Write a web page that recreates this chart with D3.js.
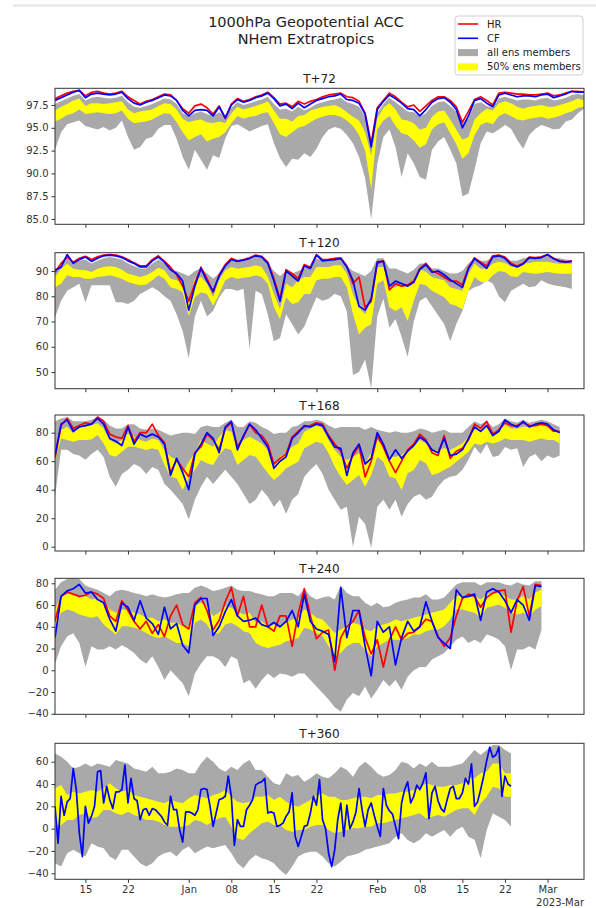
<!DOCTYPE html>
<html>
<head>
<meta charset="utf-8">
<script src="https://cdn.jsdelivr.net/npm/d3@7"></script>
<style>
  body { margin: 0; background: #fff; }
  svg { display: block; font-family: 'DejaVu Sans', sans-serif; }
</style>
</head>
<body>
<div class="visContainer"></div>
<script>
// T+72: daily values from 2022-12-10.
const t72Min = [
  92.6, 94.5, 95.4, 95.6, 95.8, 95.2, 95.0, 94.8, 95.1, 94.7,
  95.0, 95.8, 94.0, 92.6, 92.9, 93.8, 94.0, 94.9, 95.3, 95.3,
  93.8, 91.8, 90.4, 92.6, 91.5, 90.4, 92.0, 91.7, 93.8, 95.2,
  95.4, 95.0, 94.6, 94.9, 95.2, 95.4, 93.3, 91.7, 90.7, 91.6,
  91.5, 92.2, 91.8, 92.7, 94.0, 94.8, 95.1, 94.9, 94.2, 93.3,
  91.8, 89.5, 85.0, 91.0, 94.0, 94.8, 92.9, 89.6, 92.2, 91.1,
  89.6, 89.3, 92.6, 93.5, 94.0, 92.6, 91.1, 87.5, 87.8, 90.4,
  93.3, 94.6, 94.4, 94.8, 95.3, 94.9, 93.7, 92.7, 94.2, 94.9,
  95.3, 95.1, 94.8, 94.9, 95.7, 95.9, 96.6, 97.1
];
const t72Q25 = [
  95.7, 96.0, 96.4, 96.6, 97.0, 96.5, 96.6, 96.7, 96.6, 96.5,
  96.6, 96.9, 96.0, 95.5, 95.6, 95.7, 95.9, 96.3, 96.6, 96.5,
  95.6, 94.5, 93.6, 94.0, 94.3, 93.5, 93.8, 94.0, 94.5, 95.5,
  96.3, 96.0, 96.2, 96.3, 96.6, 96.7, 95.5, 94.3, 94.0, 94.5,
  95.0, 95.2, 95.6, 96.0, 96.2, 96.4, 96.4, 96.2, 95.8, 95.2,
  94.2, 92.5, 88.3, 94.8, 95.8, 96.3, 95.2, 94.4, 94.2, 93.6,
  92.8, 93.2, 94.8, 95.4, 95.6, 94.4, 93.2, 91.6, 92.2, 94.2,
  95.3, 95.6, 95.4, 96.3, 96.6, 96.3, 95.9, 95.8, 96.0, 96.1,
  96.2, 96.0, 96.1, 96.3, 96.6, 96.8, 97.2, 97.3
];
const t72Q75 = [
  96.9, 97.3, 97.6, 98.0, 98.2, 97.4, 97.7, 97.7, 97.6, 97.7,
  97.8, 97.9, 97.0, 96.6, 96.8, 96.9, 97.0, 97.4, 97.7, 97.6,
  97.0, 96.0, 95.6, 95.8, 95.9, 95.6, 95.5, 95.7, 95.5, 96.6,
  97.3, 97.0, 97.2, 97.4, 97.6, 97.9, 96.9, 96.0, 96.0, 95.7,
  96.3, 96.4, 96.9, 97.1, 97.3, 97.4, 97.5, 97.2, 96.7, 96.2,
  95.8, 94.5, 92.0, 96.0, 97.2, 97.7, 97.0, 95.9, 95.8, 95.5,
  94.8, 95.0, 96.2, 96.8, 96.9, 95.9, 94.8, 93.7, 94.0, 95.9,
  96.6, 97.1, 96.9, 97.7, 97.9, 97.7, 97.3, 97.1, 97.3, 97.4,
  97.5, 97.3, 97.3, 97.5, 97.7, 97.9, 98.2, 98.0
];
const t72Max = [
  97.6, 97.9, 98.2, 98.5, 98.7, 98.0, 98.3, 98.4, 98.3, 98.2,
  98.3, 98.5, 97.8, 97.3, 97.2, 97.4, 97.6, 97.9, 98.2, 98.1,
  97.6, 96.6, 96.3, 96.6, 96.8, 96.5, 96.3, 96.7, 96.3, 97.2,
  97.8, 97.5, 97.7, 97.9, 98.1, 98.4, 97.6, 97.0, 97.1, 96.8,
  97.3, 96.9, 97.2, 97.6, 97.8, 98.0, 98.1, 98.3, 97.8, 97.6,
  97.3, 96.2, 93.5, 96.6, 97.6, 98.3, 97.8, 97.3, 96.8, 96.7,
  96.2, 96.6, 97.4, 97.8, 97.9, 97.4, 96.8, 95.5, 96.0, 97.6,
  97.8, 97.4, 97.2, 98.2, 98.4, 98.2, 98.0, 98.1, 98.1, 98.0,
  98.2, 98.3, 98.0, 98.1, 98.3, 98.6, 98.7, 98.6
];
const t72HR = [
  98.2, 98.5, 98.8, 99.0, 99.1, 98.5, 98.9, 99.0, 98.8, 98.7,
  98.8, 99.0, 98.4, 98.0, 97.6, 97.9, 98.1, 98.4, 98.7, 98.6,
  98.0, 97.1, 96.6, 97.4, 97.6, 97.2, 96.5, 97.4, 96.0, 97.6,
  98.2, 97.9, 98.1, 98.4, 98.6, 98.9, 98.3, 97.6, 97.7, 97.3,
  97.9, 97.6, 97.9, 98.1, 98.4, 98.6, 98.7, 98.8, 98.4, 98.3,
  97.9, 96.6, 93.3, 97.2, 98.0, 98.8, 98.4, 97.8, 97.3, 97.5,
  96.8, 97.4, 98.0, 98.4, 98.4, 98.0, 97.3, 95.6, 96.8, 98.1,
  98.4, 98.0, 97.5, 98.8, 98.9, 98.8, 98.7, 98.7, 98.6, 98.6,
  98.7, 98.8, 98.5, 98.6, 98.8, 99.0, 99.0, 98.9
];
const t72CF = [
  98.0, 98.3, 98.6, 98.9, 99.1, 98.3, 98.7, 98.8, 98.7, 98.6,
  98.7, 98.9, 98.2, 97.7, 97.5, 97.8, 98.0, 98.3, 98.6, 98.5,
  98.0, 96.9, 96.3, 96.9, 97.0, 96.9, 96.3, 97.3, 96.1, 97.5,
  98.1, 97.8, 98.0, 98.3, 98.5, 98.8, 98.2, 97.4, 97.6, 97.1,
  97.7, 97.2, 97.6, 98.0, 98.2, 98.4, 98.5, 98.7, 98.1, 98.0,
  97.7, 96.5, 92.9, 97.0, 97.9, 98.6, 98.2, 97.7, 97.1, 97.0,
  96.3, 97.0, 97.8, 98.2, 98.3, 97.8, 97.0, 95.0, 96.3, 98.0,
  98.2, 97.7, 97.3, 98.6, 98.8, 98.6, 98.4, 98.5, 98.5, 98.4,
  98.6, 98.7, 98.3, 98.5, 98.7, 99.0, 98.9, 98.9
];

// T+120: daily values from 2022-12-10.
const t120Min = [
  71.6, 78.2, 82.2, 83.6, 84.9, 77.6, 84.3, 84.3, 84.3, 84.3,
  77.6, 77.6, 76.9, 78.2, 80.9, 82.2, 83.6, 82.2, 80.0, 78.2,
  72.9, 66.2, 55.5, 72.0, 78.2, 72.0, 74.2, 79.6, 82.9, 82.9,
  82.2, 83.0, 59.0, 82.2, 80.9, 72.9, 62.2, 63.5, 72.9, 68.9,
  64.9, 68.0, 74.0, 79.6, 78.2, 79.0, 81.0, 80.0, 74.0, 48.8,
  50.0, 55.0, 43.5, 72.0, 79.0, 67.5, 71.0, 64.0, 56.0, 70.0,
  78.2, 79.6, 76.0, 72.5, 69.0, 62.2, 69.0, 74.2, 82.2, 83.6,
  84.3, 86.3, 85.0, 80.0, 77.6, 82.2, 83.6, 84.9, 83.6, 84.0,
  86.3, 85.0, 84.3, 84.0, 83.6, 82.9
];
const t120Q25 = [
  83.6, 84.9, 88.3, 87.6, 87.6, 86.9, 86.9, 87.6, 87.9, 88.3,
  87.6, 86.9, 85.6, 84.9, 84.3, 84.6, 86.3, 88.3, 86.9, 83.6,
  82.9, 81.6, 72.2, 79.6, 81.6, 80.9, 76.2, 80.9, 86.3, 87.6,
  86.9, 87.3, 87.6, 88.3, 87.6, 84.9, 75.6, 70.9, 79.6, 76.9,
  77.6, 80.9, 80.9, 86.3, 86.9, 86.9, 87.6, 87.6, 83.6, 72.9,
  64.9, 67.5, 68.9, 84.9, 86.3, 75.6, 74.2, 75.6, 70.2, 78.2,
  84.9, 84.3, 82.2, 80.9, 79.6, 76.9, 76.2, 74.9, 82.2, 87.6,
  85.6, 85.6, 88.3, 90.0, 89.6, 87.9, 87.6, 89.6, 89.2, 88.9,
  89.2, 89.6, 89.2, 88.9, 88.9, 88.9
];
const t120Q75 = [
  87.6, 90.9, 92.9, 90.9, 90.5, 90.3, 89.6, 90.9, 91.6, 91.9,
  91.6, 90.5, 88.9, 88.3, 87.6, 88.3, 89.6, 91.3, 90.3, 86.9,
  86.3, 84.9, 77.6, 86.9, 87.6, 84.9, 79.6, 86.3, 90.3, 91.6,
  90.9, 91.3, 91.6, 92.3, 91.6, 87.6, 80.9, 74.9, 84.9, 83.6,
  86.3, 87.6, 87.6, 91.6, 91.6, 91.6, 92.3, 92.3, 88.9, 80.9,
  75.6, 72.9, 78.2, 91.6, 91.6, 83.6, 83.6, 84.9, 83.6, 86.3,
  90.9, 89.6, 87.6, 86.9, 86.3, 83.6, 82.9, 82.2, 88.9, 92.9,
  90.9, 90.9, 92.9, 93.6, 93.2, 91.9, 91.6, 92.9, 93.2, 93.6,
  93.6, 93.6, 93.2, 92.9, 92.9, 92.9
];
const t120Max = [
  91.0, 92.0, 95.0, 93.0, 94.0, 94.5, 93.0, 94.0, 95.0, 95.5,
  95.0, 94.5, 93.0, 92.0, 91.0, 91.0, 93.0, 94.5, 93.0, 90.5,
  90.0, 89.0, 88.0, 90.0, 91.0, 89.0, 87.0, 89.0, 92.0, 94.0,
  93.5, 94.0, 94.5, 95.5, 95.0, 93.0, 90.0, 88.0, 90.0, 89.0,
  90.0, 91.0, 92.0, 95.0, 94.0, 94.0, 94.5, 94.5, 92.0, 90.0,
  89.0, 88.0, 90.0, 95.0, 95.0, 91.0, 91.0, 90.0, 89.0, 90.5,
  93.0, 93.0, 91.0, 91.0, 90.0, 89.0, 89.0, 90.0, 93.0, 95.0,
  94.0, 94.0, 95.5, 96.0, 95.5, 94.0, 94.0, 95.0, 95.5, 95.5,
  95.5, 96.0, 95.0, 95.0, 94.5, 94.0
];
const t120HR = [
  89.5, 93.0, 95.5, 93.5, 95.0, 95.8, 94.5, 95.6, 96.3, 96.5,
  96.3, 95.6, 94.5, 93.2, 92.0, 92.0, 94.5, 96.0, 93.8, 91.5,
  88.5, 84.0, 78.0, 85.0, 91.5, 87.0, 81.5, 88.5, 92.5, 95.0,
  94.0, 94.5, 95.2, 96.3, 95.8, 93.5, 87.0, 79.0, 90.5, 89.0,
  87.0, 92.5, 91.5, 96.5, 94.5, 94.6, 95.0, 95.2, 92.0, 85.0,
  87.6, 75.5, 78.0, 93.0, 94.0, 82.5, 85.0, 84.0, 84.5, 86.0,
  91.0, 93.0, 90.0, 89.0, 87.5, 86.0, 86.0, 84.5, 91.5, 95.2,
  93.5, 92.0, 96.0, 96.3, 95.5, 93.0, 92.0, 93.0, 95.5, 95.3,
  95.6, 96.5, 95.0, 94.0, 93.5, 94.0
];
const t120CF = [
  90.3, 91.5, 96.5, 93.0, 94.5, 95.5, 93.8, 95.0, 96.0, 96.3,
  96.0, 95.3, 94.0, 93.0, 91.6, 91.6, 94.0, 95.5, 93.5, 90.5,
  89.0, 86.0, 74.5, 84.0, 91.0, 86.0, 82.0, 88.0, 92.0, 94.5,
  93.8, 94.3, 94.9, 96.0, 95.5, 93.0, 86.0, 78.0, 90.0, 88.0,
  86.0, 92.0, 91.0, 96.3, 94.0, 94.3, 94.5, 94.9, 91.6, 86.3,
  76.0, 74.5, 79.0, 93.6, 93.8, 84.0, 86.0, 85.0, 84.0, 85.5,
  90.5, 92.5, 89.5, 90.0, 88.5, 86.5, 85.0, 83.5, 91.0, 94.9,
  93.0, 91.0, 95.6, 96.0, 95.0, 92.5, 91.6, 92.8, 95.3, 95.0,
  95.3, 96.5, 94.8, 93.8, 93.6, 93.8
];

// T+168: daily values from 2022-12-10.
const t168Min = [
  35, 68, 68, 65, 64, 61, 65, 68, 63, 49,
  42, 51, 54, 58, 56, 51, 56, 54, 44, 40,
  35, 30, 19, 33, 42, 49, 44, 49, 54, 49,
  44, 37, 30, 33, 40, 35, 28, 33, 23, 33,
  37, 49, 54, 58, 51, 40, 33, 26, 28, 0,
  21, 16, -1, 28, 33, 26, 33, 21, 30, 35,
  37, 33, 35, 42, 47, 49, 50, 54, 61, 70,
  65, 72, 63, 64, 70, 68, 69, 56, 63, 65,
  60, 64, 62, 64
];
const t168Q25 = [
  59.6, 76.0, 74.9, 73.7, 74.9, 74.9, 75.3, 78.4, 72.5, 64.3,
  63.2, 66.7, 70.2, 70.2, 69.0, 67.8, 69.0, 67.8, 57.3, 49.1,
  48.0, 39.8, 48.0, 53.8, 60.8, 58.5, 57.3, 64.3, 69.0, 67.8,
  57.3, 60.8, 64.3, 63.2, 57.3, 51.5, 46.8, 50.3, 55.0, 57.3,
  59.6, 69.0, 71.3, 73.7, 72.5, 65.5, 56.1, 49.1, 43.3, 46.8,
  50.3, 42.1, 50.3, 63.2, 59.6, 49.1, 48.0, 39.8, 51.5, 53.8,
  60.8, 58.5, 50.3, 51.5, 53.8, 56.1, 59.6, 63.2, 66.7, 72.5,
  71.3, 73.7, 72.5, 73.7, 76.0, 74.9, 74.9, 74.9, 73.7, 74.9,
  76.0, 74.9, 74.9, 72.5
];
const t168Q75 = [
  65.5, 81.9, 84.2, 79.5, 84.2, 84.2, 85.4, 86.5, 83.0, 74.9,
  72.5, 74.9, 79.5, 77.2, 74.9, 73.7, 76.0, 74.9, 67.8, 63.2,
  60.8, 51.5, 59.6, 65.5, 74.9, 72.5, 70.2, 77.2, 81.9, 80.7,
  70.2, 74.9, 77.2, 74.9, 72.5, 67.8, 56.1, 63.2, 65.5, 70.2,
  72.5, 80.7, 83.0, 85.4, 83.0, 74.9, 67.8, 63.2, 60.8, 63.2,
  65.5, 58.5, 65.5, 74.9, 70.2, 63.2, 63.2, 64.3, 67.8, 70.2,
  74.9, 72.5, 66.7, 67.8, 69.0, 67.8, 70.2, 72.5, 77.2, 84.2,
  83.0, 84.2, 79.5, 81.9, 85.4, 83.0, 83.0, 84.2, 84.2, 85.4,
  85.4, 84.2, 81.9, 80.7
];
const t168Max = [
  88, 90, 91, 88, 88, 88, 89, 91, 89, 85,
  83, 83, 86, 86, 83, 82, 83, 82, 80, 78,
  79, 80, 80, 79, 84, 85, 84, 84, 87, 89,
  84, 84, 88, 87, 84, 82, 79, 80, 80, 84,
  85, 88, 88, 89, 88, 85, 83, 84, 84, 84,
  84, 82, 84, 82, 81, 80, 81, 80, 80, 81,
  83, 82, 80, 81, 82, 80, 80, 80, 84, 88,
  86, 88, 84, 86, 90, 88, 87, 89, 87, 88,
  89, 88, 86, 84
];
const t168HR = [
  62, 85, 90, 83, 85, 87, 86, 91, 88, 79,
  77, 76, 85, 74, 80, 80, 86, 78, 73, 52,
  61, 55, 49, 66, 70, 79, 75, 68, 83, 87,
  70, 77, 86, 80, 78, 72, 58, 62, 65, 77,
  81, 84, 85, 87, 86, 78, 72, 67, 55, 64,
  71, 49, 60, 78, 70, 60, 52, 60, 68, 72,
  79, 75, 66, 64, 78, 62, 67, 69, 75, 86,
  83, 88, 79, 82, 87, 85, 85, 87, 85, 85,
  86, 85, 81, 81
];
const t168CF = [
  64, 86, 89, 81, 84, 85, 86, 90, 86, 76,
  74, 71, 84, 72, 79, 77, 79, 77, 72, 50,
  62, 52, 40, 65, 72, 80, 76, 66, 84, 88,
  68, 78, 86, 82, 76, 70, 55, 60, 63, 76,
  80, 85, 84, 86, 85, 77, 70, 69, 50, 66,
  72, 58, 62, 80, 72, 61, 68, 62, 67, 71,
  77, 74, 68, 66, 76, 64, 65, 68, 76, 84,
  81, 85, 78, 81, 89, 86, 84, 88, 84, 86,
  87, 86, 82, 80
];

// T+240: daily values from 2022-12-10.
const t240Min = [
  6, 22, 31, 34, 25, 3, 22, 19, 19, 22,
  19, 23, 20, 16, 10, 6, 13, 3, -9, 0,
  -6, -12, -24, -3, 6, 13, 13, 10, 3, 13,
  10, -12, -9, -17, -9, -3, -7, -3, -4, -6,
  -3, -3, -9, -15, -21, -27, -34, -38, -27, -21,
  -24, -15, -26, -18, -9, -15, -9, -18, -6, 0,
  3, 3, 10, 13, 16, 22, 28, 31, 25, 28,
  25, 33, 31, 28, 22, 0, 19, 19, 22, 19,
  37
];
const t240Q25 = [
  37.4, 52.8, 55.9, 54.4, 51.3, 49.8, 48.2, 49.8, 42.0, 37.4,
  32.8, 40.5, 40.5, 39.0, 37.4, 34.3, 31.2, 29.7, 31.2, 28.1,
  25.1, 25.1, 22.0, 43.6, 46.7, 42.0, 32.8, 34.3, 42.0, 43.6,
  40.5, 35.9, 34.3, 25.1, 22.0, 20.4, 22.0, 23.5, 26.6, 28.1,
  29.7, 39.0, 37.4, 34.3, 31.2, 22.0, 12.7, 15.8, 22.0, 25.1,
  25.1, 18.9, 12.7, 22.0, 25.1, 28.1, 28.1, 28.1, 29.7, 32.8,
  32.8, 35.9, 37.4, 37.4, 40.5, 46.7, 55.9, 55.9, 54.4, 52.8,
  48.2, 57.5, 59.0, 60.6, 57.5, 52.8, 51.3, 52.8, 49.8, 55.9,
  59.0
];
const t240Q75 = [
  55.9, 68.3, 69.8, 71.4, 66.7, 68.3, 65.2, 66.7, 62.1, 55.9,
  52.8, 55.9, 55.9, 52.8, 51.3, 48.2, 48.2, 45.1, 46.7, 43.6,
  43.6, 40.5, 40.5, 59.0, 62.1, 59.0, 49.8, 52.8, 59.0, 57.5,
  54.4, 51.3, 52.8, 43.6, 45.1, 40.5, 42.0, 40.5, 43.6, 46.7,
  48.2, 55.9, 52.8, 48.2, 46.7, 40.5, 34.3, 37.4, 40.5, 43.6,
  42.0, 37.4, 35.9, 40.5, 42.0, 43.6, 46.7, 45.1, 46.7, 48.2,
  49.8, 51.3, 52.8, 54.4, 55.9, 62.1, 68.3, 68.3, 66.7, 68.3,
  65.2, 69.8, 71.4, 71.4, 68.3, 65.2, 65.2, 68.3, 65.2, 71.4,
  74.4
];
const t240Max = [
  74, 81, 84, 85, 84, 78, 76, 74, 71, 68,
  73, 74, 73, 71, 70, 68, 70, 68, 67, 68,
  70, 71, 71, 76, 78, 76, 73, 74, 76, 78,
  74, 73, 73, 71, 70, 68, 68, 71, 71, 71,
  68, 75, 68, 65, 67, 68, 65, 78, 71, 68,
  68, 62, 59, 62, 58, 59, 62, 64, 65, 67,
  67, 70, 65, 65, 67, 73, 79, 81, 81, 81,
  78, 81, 81, 81, 79, 78, 81, 79, 78, 82,
  82
];
const t240HR = [
  45, 68, 72, 70, 68, 69, 72, 70, 66, 50,
  45, 64, 55, 45, 38, 45, 34, 42, 31, 50,
  60, 42, 38, 62, 67, 55, 37, 46, 63, 76,
  50, 68, 40, 40, 60, 40, 36, 50, 50, 22,
  52, 75, 50, 29, 35, 37, 0, 30, 40, 45,
  55, 30, 15, 28, 3, 28, 40, 28, 34, 35,
  40, 47, 45, 31, 22, 30, 50, 66, 70, 68,
  58, 67, 71, 73, 74, 35, 64, 77, 50, 79,
  78
];
const t240CF = [
  30, 68, 73, 75, 79, 71, 72, 65, 62, 47,
  36, 62, 58, 46, 64, 48, 43, 33, 58, 38,
  43, 23, 16, 60, 66, 66, 32, 40, 54, 65,
  50, 45, 46, 48, 42, 40, 44, 40, 45, 55,
  40, 70, 45, 38, 36, 33, 8, 76, 30, 55,
  55, 22, -5, 45, 35, 40, 5, 30, 45, 36,
  40, 63, 45, 30, 25, 20, 74, 67, 68, 70,
  46, 72, 75, 72, 64, 53, 65, 60, 46, 78,
  77
];

// T+360: bands daily, CF every 12 hours, from 2022-12-10.
const t360Min = [
  -31, -34, -22, -19, -22, -25, -13, -16, -17.6, -25,
  -28, -19, -19, -25, -31, -34, -31, -25, -22, -20.6,
  -25, -19, -16, -22, -19, -16, -17.6, -16, -14.6, -22,
  -31, -35.5, -28, -23.6, -26.6, -28, -31, -37, -41.5, -34,
  -25, -22, -20.6, -20.6, -25, -31, -34, -29.6, -25, -23.6,
  -22, -19, -17.6, -16, -14.6, -13, -7.2, -4.2, -10.1, -13,
  -10, -4.2, -7.2, -4.2, -1.2, -7.2, -1.2, 1.8, -7.2, -10,
  -26.6, -1.2, 13.7, 10.7, 7.8, 1.8
];
const t360Q25 = [
  3.3, 3.3, 7.8, 7.8, 12.2, 13.7, 9.3, 10.7, 16.7, 16.7,
  13.7, 12.2, 15.2, 12.2, 10.7, 7.8, 7.8, 6.3, 3.3, 1.8,
  1.8, 1.8, 3.3, 7.8, 6.3, 3.3, 6.3, 9.3, 10.7, 1.8,
  -8.7, -10.1, -4.2, 0.3, 4.8, 6.3, 3.3, 3.3, -1.2, -2.7,
  -1.2, -1.2, 1.8, 3.3, 3.3, -1.2, -4.2, -2.7, -1.2, 0.3,
  0.3, 1.8, 1.8, 4.8, 4.8, 6.3, 7.8, 9.3, 10.7, 12.2,
  13.7, 9.3, 10.7, 12.2, 10.7, 13.7, 16.7, 18.2, 18.2, 12.2,
  22.7, 28.7, 37.6, 36.1, 28.7, 28.7
];
const t360Q75 = [
  36.1, 39.1, 30.1, 33.1, 31.6, 33.1, 34.6, 33.1, 36.1, 40.6,
  36.1, 33.1, 34.6, 30.1, 28.7, 27.2, 25.7, 24.2, 22.7, 25.7,
  24.2, 22.7, 27.2, 30.1, 28.7, 27.2, 30.1, 31.6, 34.6, 28.7,
  24.2, 22.7, 24.2, 28.7, 28.7, 30.1, 25.7, 28.7, 24.2, 21.2,
  19.7, 22.7, 25.7, 30.1, 31.6, 28.7, 28.7, 25.7, 25.7, 27.2,
  28.7, 28.7, 27.2, 30.1, 30.1, 31.6, 31.6, 33.1, 33.1, 34.6,
  36.1, 40.6, 39.1, 37.6, 37.6, 39.1, 39.1, 40.6, 45.1, 45.1,
  49.6, 51.0, 58.5, 58.5, 49.6, 49.6
];
const t360Max = [
  67.5, 64.5, 60, 54, 55.5, 58.5, 55.5, 58.5, 57, 55.5,
  61.5, 60, 58.5, 54, 52.5, 51, 55.5, 49.6, 49.6, 51,
  54, 52.5, 49.6, 49.6, 58.5, 64.5, 60, 54, 51, 55.5,
  52.5, 58.5, 61.5, 52.5, 52.5, 46.6, 40.6, 39.1, 49.6, 46.6,
  48.1, 42.1, 45.1, 49.6, 46.6, 45.1, 49.6, 55.5, 52.5, 46.6,
  55.5, 60, 55.5, 49.6, 46.6, 48.1, 52.5, 60, 58.5, 54,
  58.5, 55.5, 60, 55.5, 55.5, 55.5, 57, 58.5, 64.5, 70.4,
  66, 70.4, 74.9, 74.9, 70.4, 67.5
];
const t360CF = [
  20, -13, 29, 12, 24, 27, 54, 35, -4, -25,
  20, 5, 11, 20, 51, 52, 23, 38, 26, 18,
  33, 33, 35, 57, 23, 45, 27, 25, 8, 17,
  18, 12, 18, 17, 14, 11, 6, 3, 29, 17,
  17, -1, -12, 15, 15, 14, 12, 17, 35, 36,
  35, 20, 2, 14, 26, 27, 29, 47, 29, -15,
  8, 2, 2, 17, 21, 26, 39, 41, 42, 45,
  14, 15, 14, 2, 3, 5, 11, 15, 32, -7,
  -16, -7, 2, 3, 14, 29, 21, 44, 8, 0,
  -22, -34, -19, 8, 23, -7, 21, 0, 6, 15,
  36, 17, 2, 17, 23, 12, 2, -7, 36, 21,
  16, 13, 2, -9, 23, 35, 42, 23, 29, 39,
  35, 41, 50, 9, 32, 38, 25, 18, 15, 26,
  36, 38, 27, 27, 32, 45, 40, 58, 20, 24,
  35, 47, 61, 73, 64, 66, 73, 29, 47, 40,
  38
];

// Y tick values for each lead time.
const t72Ticks = [85, 87.5, 90, 92.5, 95, 97.5];
const t120Ticks = [50, 60, 70, 80, 90];
const t168Ticks = [0, 20, 40, 60, 80];
const t240Ticks = [-40, -20, 0, 20, 40, 60, 80];
const t360Ticks = [-40, -20, 0, 20, 40, 60];

// X ticks and labels.
const xTickDates = ['2022-12-15', '2022-12-22', '2023-01-01', '2023-01-08', '2023-01-15',
                    '2023-01-22', '2023-02-01', '2023-02-08', '2023-02-15', '2023-02-22', '2023-03-01'];
const xTickLabels = ['15', '22', 'Jan', '08', '15', '22', 'Feb', '08', '15', '22', 'Mar'];

const legendLabels = ['HR', 'CF', 'all ens members', '50% ens members'];

// SVG constants.
const width = 596;
const height = 908;
const left = 55;
const right = 584;
const panelHeight = 136;
const startDate = Date.UTC(2022, 11, 10);
const hour = 3600 * 1000;

const panels = [
    { title: 'T+72', min: t72Min, q25: t72Q25, q75: t72Q75, max: t72Max, hr: t72HR, cf: t72CF,
      cfStep: 24, domain: [84.42, 99.33], ticks: t72Ticks, fmt: '.1f', top: 88.3 },
    { title: 'T+120', min: t120Min, q25: t120Q25, q75: t120Q75, max: t120Max, hr: t120HR, cf: t120CF,
      cfStep: 24, domain: [43.41, 97.23], ticks: t120Ticks, fmt: 'd', top: 252.7 },
    { title: 'T+168', min: t168Min, q25: t168Q25, q75: t168Q75, max: t168Max, hr: t168HR, cf: t168CF,
      cfStep: 24, domain: [-3.02, 92.42], ticks: t168Ticks, fmt: 'd', top: 415 },
    { title: 'T+240', min: t240Min, q25: t240Q25, q75: t240Q75, max: t240Max, hr: t240HR, cf: t240CF,
      cfStep: 24, domain: [-40.5, 84.6], ticks: t240Ticks, fmt: 'd', top: 578.3 },
    { title: 'T+360', min: t360Min, q25: t360Q25, q75: t360Q75, max: t360Max, hr: null, cf: t360CF,
      cfStep: 12, domain: [-45.4, 76.5], ticks: t360Ticks, fmt: 'd', top: 743.3 }
];

const x = d3.scaleUtc()
            .domain([new Date(startDate), new Date(Date.UTC(2023, 2, 7))])
            .range([left, right]);

const dateAt = (i, step) => new Date(startDate + i * step * hour);

const svg = d3.select('.visContainer')
              .append('svg')
              .attr('width', width)
              .attr('height', height);

// Light strip at the top of the screenshot.
svg.append('rect')
   .attr('x', 13).attr('y', 4)
   .attr('width', width - 13).attr('height', 3)
   .attr('fill', '#ececec');

// Title.
svg.append('text')
   .attr('x', 306).attr('y', 27)
   .attr('text-anchor', 'middle')
   .attr('font-size', '14.5px')
   .attr('fill', '#222')
   .text('1000hPa Geopotential ACC');
svg.append('text')
   .attr('x', 306).attr('y', 44)
   .attr('text-anchor', 'middle')
   .attr('font-size', '14.5px')
   .attr('fill', '#222')
   .text('NHem Extratropics');

panels.forEach((p, k) => {
    const y = d3.scaleLinear()
                .domain(p.domain)
                .range([p.top + panelHeight, p.top]);

    const clipId = 'clip' + k;
    svg.append('clipPath')
       .attr('id', clipId)
       .append('rect')
       .attr('x', left).attr('y', p.top)
       .attr('width', right - left).attr('height', panelHeight);

    const g = svg.append('g').attr('clip-path', 'url(#' + clipId + ')');

    // Ensemble bands.
    const band = (lo, hi) => d3.area()
        .x((d, i) => x(dateAt(i, 24)))
        .y0((d, i) => y(lo[i]))
        .y1((d, i) => y(hi[i]));

    g.append('path')
     .datum(p.min)
     .attr('fill', '#a9a9a9')
     .attr('d', band(p.min, p.max));

    g.append('path')
     .datum(p.q25)
     .attr('fill', '#ffff00')
     .attr('d', band(p.q25, p.q75));

    // HR and CF lines.
    const line = (step) => d3.line()
        .x((d, i) => x(dateAt(i, step)))
        .y((d) => y(d));

    if (p.hr) {
        g.append('path')
         .datum(p.hr)
         .attr('fill', 'none')
         .attr('stroke', '#ff0000')
         .attr('stroke-width', 1.7)
         .attr('stroke-linejoin', 'round')
         .attr('d', line(24));
    }

    g.append('path')
     .datum(p.cf)
     .attr('fill', 'none')
     .attr('stroke', '#0000ff')
     .attr('stroke-width', 1.7)
     .attr('stroke-linejoin', 'round')
     .attr('d', line(p.cfStep));

    // Axes.
    const yAxis = d3.axisLeft(y)
                    .tickValues(p.ticks)
                    .tickFormat(d3.format(p.fmt))
                    .tickSize(3.5)
                    .tickPadding(3);

    const isLast = k === panels.length - 1;
    const xAxis = d3.axisBottom(x)
                    .tickValues(xTickDates.map((d) => new Date(d + 'T00:00:00Z')))
                    .tickFormat((d, i) => isLast ? xTickLabels[i] : '')
                    .tickSize(3.5)
                    .tickPadding(3.5);

    const ya = svg.append('g')
                  .attr('transform', 'translate(' + left + ',0)')
                  .call(yAxis);
    const xa = svg.append('g')
                  .attr('transform', 'translate(0,' + (p.top + panelHeight) + ')')
                  .call(xAxis);

    [ya, xa].forEach((a) => {
        a.select('.domain').remove();
        a.selectAll('line').attr('stroke', '#333');
        a.selectAll('text')
         .attr('font-family', 'DejaVu Sans')
         .attr('font-size', '10px')
         .attr('fill', '#333');
    });

    // Frame.
    svg.append('rect')
       .attr('x', left).attr('y', p.top)
       .attr('width', right - left).attr('height', panelHeight)
       .attr('fill', 'none')
       .attr('stroke', '#333')
       .attr('stroke-width', 1);

    // Panel title.
    svg.append('text')
       .attr('x', (left + right) / 2)
       .attr('y', p.top - 5.5)
       .attr('text-anchor', 'middle')
       .attr('font-size', '12px')
       .attr('fill', '#222')
       .text(p.title);
});

// Date offset label.
svg.append('text')
   .attr('x', right).attr('y', 906)
   .attr('text-anchor', 'end')
   .attr('font-size', '10px')
   .attr('fill', '#333')
   .text('2023-Mar');

// Legend.
const legend = svg.append('g');
legend.append('rect')
      .attr('x', 455).attr('y', 16)
      .attr('width', 128).attr('height', 59)
      .attr('rx', 3)
      .attr('fill', '#fff')
      .attr('stroke', '#d0d0d0');

const legendColors = ['#ff0000', '#0000ff', '#a9a9a9', '#ffff00'];
legendLabels.forEach((label, i) => {
    const cy = 24 + i * 14.3;
    if (i < 2) {
        legend.append('line')
              .attr('x1', 458).attr('x2', 478)
              .attr('y1', cy).attr('y2', cy)
              .attr('stroke', legendColors[i])
              .attr('stroke-width', 1.6);
    } else {
        legend.append('rect')
              .attr('x', 458).attr('y', cy - 3.5)
              .attr('width', 20).attr('height', 7)
              .attr('fill', legendColors[i]);
    }
    legend.append('text')
          .attr('x', 487).attr('y', cy + 3.5)
          .attr('font-size', '10px')
          .attr('fill', '#222')
          .text(label);
});
</script>
</body>
</html>
